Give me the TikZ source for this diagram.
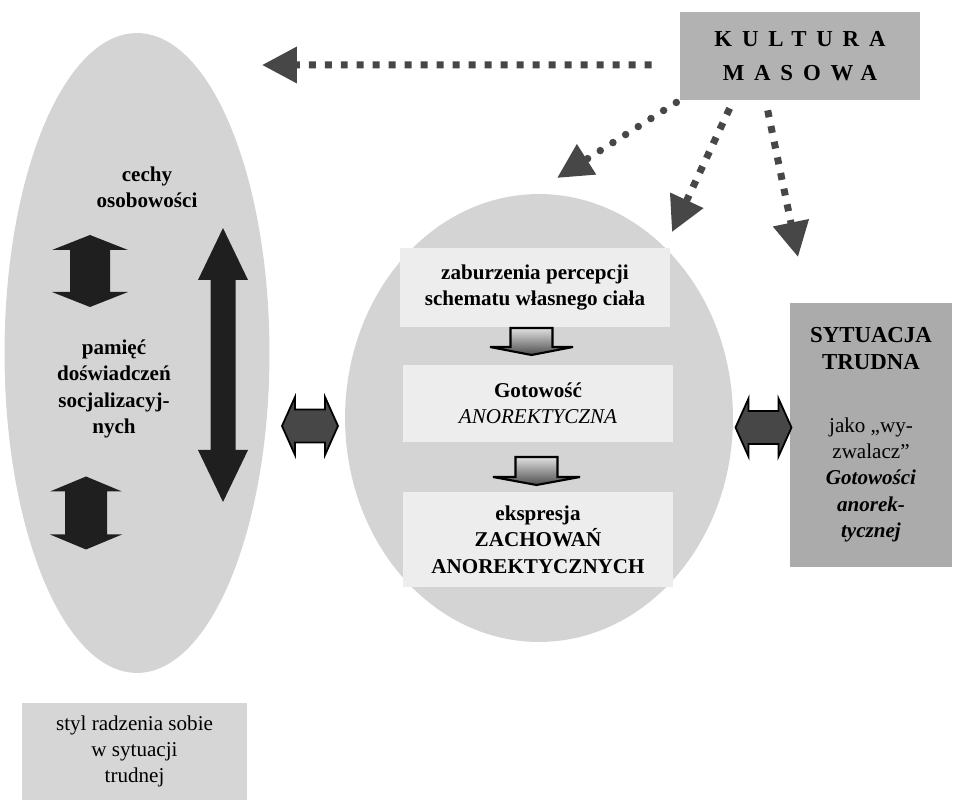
\documentclass[tikz,border=0pt]{standalone}
\usepackage{fontspec}
\setmainfont{Liberation Serif}
\newfontfamily\spacedfont[LetterSpace=43]{Liberation Serif}
\usepackage{tikz}
\usetikzlibrary{shapes.geometric,arrows.meta}

% block arrow with two heads: style, centre x, centre y, half length, half shaft, half head, head length
\newcommand{\twohead}[7]{%
	\path[shift={(#2,#3)}, #1] (0,-#4) -- (#6,{-#4+#7}) -- (#5,{-#4+#7}) -- (#5,{#4-#7}) -- (#6,{#4-#7}) -- (0,#4)
		-- (-#6,{#4-#7}) -- (-#5,{#4-#7}) -- (-#5,{-#4+#7}) -- (-#6,{-#4+#7}) -- cycle;}
% block arrow pointing down: style, centre x, top y, shaft length, half shaft, half head, head length
\newcommand{\downblock}[7]{%
	\path[shift={(#2,#3)}, #1] (-#5,0) -- (#5,0) -- (#5,#4) -- (#6,#4) -- (0,{#4+#7}) -- (-#6,#4) -- (-#5,#4) -- cycle;}

\tikzset{
	blob/.style={ellipse, fill=black!17, inner sep=0pt},
	panel/.style={rectangle, fill=black!7, minimum width=5.4cm, inner sep=0pt, align=center},
	lbl/.style={font=\fontsize{12}{15}\selectfont, align=center},
	lblb/.style={font=\fontsize{12}{15}\selectfont\bfseries, align=center},
	updown/.style={fill=black!88},
	sidearr/.style={rotate=90, fill=black!72, draw=black, line width=1pt},
	downarr/.style={draw=black, line width=1.2pt, top color=black!12, bottom color=black!70},
	sqdots/.style={draw=black!72, line width=0.14cm, dash pattern=on 0.14cm off 0.18cm,
		-{Triangle[length=0.7cm, width=0.7cm]}},
	rounddots/.style={draw=black!72, line width=0.15cm, line cap=round, dash pattern=on 0pt off 0.3cm,
		-{Triangle[length=0.7cm, width=0.68cm]}}
}

\begin{document}
\begin{tikzpicture}[x=0.02cm, y=-0.02cm]
			\useasboundingbox (0,0) rectangle (954,800);
			
			\node[blob, minimum width=5.3cm, minimum height=12.8cm] (pers) at (137,353) {};
			\node[blob, minimum width=7.76cm, minimum height=8.96cm] (core) at (539,418) {};
			
			\node[rectangle, fill=black!30, minimum width=4.8cm, minimum height=1.76cm, align=center,
				font=\fontsize{13}{19}\selectfont\bfseries\spacedfont] (kultura) at (800,56) {KULTURA\\MASOWA};
			\node[rectangle, fill=black!33, minimum width=3.24cm, minimum height=5.28cm, lbl] (trigger) at (871,435)
				{\fontsize{13}{15}\selectfont\textbf{SYTUACJA}\\\fontsize{13}{15}\selectfont\textbf{TRUDNA}\\[0.73cm]jako „wy-\\zwalacz”\\\textbf{\textit{Gotowości}}\\\textbf{\textit{anorek-}}\\\textbf{\textit{tycznej}}};
			\node[rectangle, fill=black!16, minimum width=4.5cm, minimum height=1.94cm, lbl] (coping) at (134.5,751.5)
				{styl radzenia sobie\\w sytuacji\\trudnej};
			
			\node[lblb] (traits) at (147,187) {cechy\\osobowości};
			\node[lblb] (memory) at (114,389) {pamięć\\doświadczeń\\socjalizacyj-\\nych};
			
			\twohead{updown}{90}{271}{36}{20}{38}{15}
			\twohead{updown}{86}{513}{36.5}{21}{36}{15}
			\twohead{updown}{223}{365}{137}{12.5}{25}{52}
			
			\node[panel, minimum height=1.58cm, lblb] (percep) at (535,287.5) {zaburzenia percepcji\\schematu własnego ciała};
			\node[panel, minimum height=1.54cm, lbl] (ready) at (538,403.5) {\textbf{Gotowość}\\\textit{ANOREKTYCZNA}};
			\node[panel, minimum height=1.9cm, lblb] (express) at (538,539.5) {ekspresja\\ZACHOWAŃ\\ANOREKTYCZNYCH};
			
			\downblock{downarr}{531.5}{328}{19}{21}{41.5}{8}
			\downblock{downarr}{536.5}{457}{20}{21}{43.5}{8}
			
			\twohead{sidearr}{310}{426}{28}{16.5}{29}{13}
			\twohead{sidearr}{763.5}{427.5}{28}{16.5}{29}{13}
			
			\coordinate (tipA) at (262,65);
			\coordinate (tipB) at (557,178);
			\coordinate (tipC) at (672,232);
			\coordinate (tipD) at (798,257);
			
			\draw[sqdots, shorten <=0.56cm] ([yshift=-0.18cm]kultura.west) -- (tipA);
			\draw[rounddots, shorten <=0.08cm] (kultura.south west) -- (tipB);
			\draw[sqdots] (kultura.south west) ++(50,8) -- (tipC);
			\draw[sqdots] (kultura.south west) ++(88,10) -- (tipD);
			
\end{tikzpicture}
\end{document}
